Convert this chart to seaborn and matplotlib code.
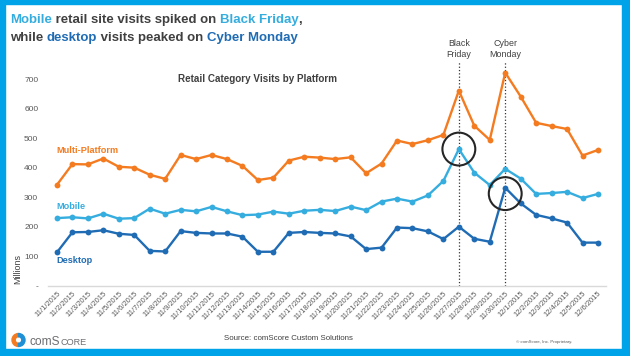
import pandas as pd
import matplotlib
matplotlib.use('Agg')
import matplotlib.pyplot as plt
from matplotlib.patches import Rectangle, Wedge
import seaborn as sns

# daily retail site visits (millions), 11/1/2015 - 12/6/2015
days = pd.date_range('2015-11-01', '2015-12-06')
day_labels = ['%d/%d/%d' % (d.month, d.day, d.year) for d in days]

multi_platform = [343, 413, 412, 432, 404, 401, 377, 363, 444, 430,
                  444, 430, 407, 359, 367, 425, 438, 435, 430, 436,
                  382, 415, 493, 481, 494, 512, 662, 543, 495, 723,
                  642, 553, 542, 532, 442, 461]
mobile = [230, 233, 229, 245, 228, 230, 262, 245, 258, 253,
          268, 253, 240, 242, 252, 245, 255, 258, 254, 269,
          257, 286, 296, 286, 307, 356, 464, 384, 342, 397,
          364, 312, 315, 319, 298, 312]
desktop = [114, 182, 183, 189, 177, 173, 119, 117, 186, 180,
           178, 178, 167, 116, 116, 180, 183, 180, 178, 168,
           125, 130, 198, 196, 185, 159, 201, 160, 150, 333,
           280, 241, 229, 215, 147, 147]

platforms = ['Multi-Platform', 'Mobile', 'Desktop']
colors = ['#f47b20', '#36addf', '#1f6cb5']
y_ticks = [0, 100, 200, 300, 400, 500, 600, 700]
y_tick_labels = ['-', '100', '200', '300', '400', '500', '600', '700']
black_friday = day_labels.index('11/27/2015')
cyber_monday = day_labels.index('11/30/2015')

df = pd.DataFrame({'day': list(range(len(days))) * 3,
                   'visits': multi_platform + mobile + desktop,
                   'platform': [p for p in platforms for _ in days]})

sns.set_theme(style='white')
plt.rcParams['font.family'] = ['Liberation Sans', 'DejaVu Sans']

dark = '#404040'
grey = '#595959'
light_blue = '#36addf'
dark_blue = '#1f6cb5'

fig = plt.figure(figsize=(6.3, 3.56), dpi=100)
fig.patch.set_facecolor('white')

# main chart area (pixel layout)
ax = fig.add_axes([48 / 630, 70 / 356, 558 / 630, 224 / 356])
sns.lineplot(data=df, x='day', y='visits', hue='platform', hue_order=platforms,
             palette=colors, marker='o', markersize=4.2, markeredgewidth=0,
             linewidth=1.7, legend=False, ax=ax)

ax.set_xlim(-0.58, 35.52)
ax.set_ylim(0, 759)
ax.set_xlabel('')
ax.set_ylabel('')
ax.set_xticks(range(len(days)))
ax.set_xticklabels(day_labels, rotation=45, ha='right', rotation_mode='anchor',
                   fontsize=5.4, color=grey)
ax.set_yticks(y_ticks)
ax.set_yticklabels(y_tick_labels, fontsize=6, color=grey)
ax.tick_params(axis='x', length=0, pad=3)
ax.tick_params(axis='y', length=0, pad=7)
for s in ['left', 'top', 'right']:
    ax.spines[s].set_visible(False)
ax.spines['bottom'].set_color('#d9d9d9')
ax.spines['bottom'].set_linewidth(1)
ax.patch.set_alpha(0)

# event markers
for idx, lab in [(black_friday, 'Black\nFriday'), (cyber_monday, 'Cyber\nMonday')]:
    ax.axvline(idx, color='#333333', linestyle=':', linewidth=0.9, zorder=1)
    ax.text(idx, 1.058, lab, transform=ax.get_xaxis_transform(), ha='center',
            va='center', fontsize=6.4, color=dark, linespacing=1.15)

# highlight circles
ax.scatter([black_friday], [mobile[black_friday]], s=560, facecolors='none',
           edgecolors='#262626', linewidths=1.5, zorder=5)
ax.scatter([cyber_monday], [desktop[cyber_monday] - 20], s=560, facecolors='none',
           edgecolors='#262626', linewidths=1.5, zorder=5)

# series labels
ax.text(-0.06, 459, 'Multi-Platform', color=colors[0], fontsize=6.6, fontweight='bold', va='center')
ax.text(-0.06, 268, 'Mobile', color=colors[1], fontsize=6.6, fontweight='bold', va='center')
ax.text(-0.06, 88, 'Desktop', color=colors[2], fontsize=6.6, fontweight='bold', va='center')

# overlay in pixel coordinates for frame, titles and footer
over = fig.add_axes([0, 0, 1, 1], zorder=10)
over.set_xlim(0, 630)
over.set_ylim(356, 0)
over.axis('off')
over.patch.set_alpha(0)

frame = '#00a3e8'
over.add_patch(Rectangle((0, 0), 630, 4, color=frame))
over.add_patch(Rectangle((0, 349), 630, 7, color=frame))
over.add_patch(Rectangle((0, 0), 5, 356, color=frame))
over.add_patch(Rectangle((622, 0), 8, 356, color=frame))

renderer = fig.canvas.get_renderer()


def text_width(s, **kw):
    t = over.text(0, 0, s, **kw)
    w = t.get_window_extent(renderer=renderer).width
    t.remove()
    return w


def rich_line(x, y, pieces, **kw):
    prefix = ''
    for s, c in pieces:
        dx = 0
        if prefix:
            dx = text_width(prefix + 'I', **kw) - text_width('I', **kw)
        over.text(x + dx, y, s, color=c, **kw)
        prefix += s


title_kw = dict(fontsize=9.5, fontweight='bold', va='baseline', ha='left')
rich_line(10, 23, [('Mobile', light_blue), (' retail site visits spiked on ', dark),
                   ('Black Friday', light_blue), (',', dark)], **title_kw)
rich_line(10, 41, [('while ', dark), ('desktop', dark_blue), (' visits peaked on ', dark),
                   ('Cyber Monday', dark_blue)], **title_kw)

over.text(257, 79, 'Retail Category Visits by Platform', ha='center', va='center',
          fontsize=7.1, fontweight='bold', color=dark)
over.text(18, 269, 'Millions', rotation=90, ha='center', va='center', fontsize=6.4, color=dark)

# footer
over.add_patch(Wedge((18.5, 340), 6.5, 90, 270, width=3.2, color='#f47b20'))
over.add_patch(Wedge((18.5, 340), 6.5, -90, 90, width=3.2, color='#1f8fd6'))
logo_kw = dict(family='Liberation Sans', va='baseline', ha='left', color='#6d6e71')
over.text(30, 345, 'comS', fontsize=8.6, **logo_kw)
over.text(30 + text_width('comS', fontsize=8.6, **logo_kw), 345, 'CORE', fontsize=6.6, **logo_kw)
over.text(224, 339, 'Source: comScore Custom Solutions', ha='left', va='center',
          fontsize=5.7, color=dark)
over.text(516, 342, '\u00a9 comScore, Inc. Proprietary.', ha='left', va='center',
          fontsize=3.2, color=grey)

fig.savefig('out.png', dpi=100)
